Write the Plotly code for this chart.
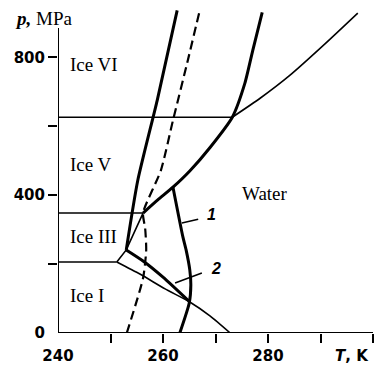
import plotly.graph_objects as go

# ---- data (T in K, p in MPa) ----
ice1_ice3_T = [240, 251.2]
ice1_ice3_p = [206, 206]
ice3_ice5_T = [240, 256.2]
ice3_ice5_p = [348, 348]
ice5_ice6_T = [240, 273.2]
ice5_ice6_p = [626, 626]

melt1_T = [251.2, 255.6, 260.4, 265.1, 269.0, 272.8]
melt1_p = [206, 171, 128, 90, 49, 0]

melt3_T = [251.2, 253.0, 256.2]
melt3_p = [206, 241, 348]

thickA_T = [253.0, 255.2, 258.9, 262.7]
thickA_p = [241, 443, 675, 936]

dash_T = [253.1, 256.2, 256.8, 256.6, 256.2, 259.6, 261.9, 264.6, 267.0]
dash_p = [0, 159, 241, 304, 348, 472, 617, 783, 936]

thickB_T = [256.2, 259.0, 261.9, 265.1, 269.0, 273.2, 275.6, 277.1, 278.9]
thickB_p = [348, 386, 423, 470, 539, 626, 725, 820, 930]

melt6_T = [273.2, 278.5, 284.2, 290.8, 297.1]
melt6_p = [626, 681, 748, 838, 928]

curve1_T = [261.9, 263.8, 264.4, 265.1, 265.3, 265.0, 263.2]
curve1_p = [423, 278, 241, 183, 139, 87, 0]

curve2_T = [253.0, 256.2, 260.0, 265.1]
curve2_p = [241, 209, 162, 90]

ptr1_T = [263.6, 266.7]
ptr1_p = [319, 330]
ptr2_T = [262.3, 267.4]
ptr2_p = [145, 174]

x_tickvals = [240, 260, 280]
x_ticktext = ["240", "260", "280"]
x_minor = [250, 260, 270, 280, 290, 300]
y_tickvals = [0, 400, 800]
y_ticktext = ["0", "400", "800"]
y_minor = [200, 400, 600, 800]

regions = [("Ice VI", 241.9, 780), ("Ice V", 241.9, 490), ("Ice III", 241.9, 281),
           ("Ice I", 241.9, 110)]

THIN = 1.6
THICK = 3.0

fig = go.Figure()

def add(T, p, w, dash="solid", shape="linear"):
    fig.add_trace(go.Scatter(x=T, y=p, mode="lines",
                             line=dict(color="black", width=w, dash=dash, shape=shape,
                                       smoothing=0.6),
                             hoverinfo="skip", showlegend=False))

add(ice1_ice3_T, ice1_ice3_p, THIN)
add(ice3_ice5_T, ice3_ice5_p, THIN)
add(ice5_ice6_T, ice5_ice6_p, THIN)
add(melt1_T, melt1_p, THIN, shape="spline")
add(melt3_T, melt3_p, THIN)
add(thickA_T, thickA_p, THICK, shape="spline")
add(dash_T, dash_p, 2.2, dash="9px,5px", shape="spline")
add(thickB_T, thickB_p, THICK, shape="spline")
add(melt6_T, melt6_p, THIN, shape="spline")
add(curve1_T, curve1_p, THICK, shape="spline")
add(curve2_T, curve2_p, THICK, shape="spline")
add(ptr1_T, ptr1_p, 1.6)
add(ptr2_T, ptr2_p, 1.6)

XR = [240, 300]
YR = [0, 940]

tickfont = dict(family="DejaVu Sans", size=15, color="black", weight="bold")

fig.update_layout(
    width=377, height=372,
    margin=dict(l=58, r=4, t=9, b=39),
    paper_bgcolor="white", plot_bgcolor="white",
    xaxis=dict(range=XR, showgrid=False, zeroline=False, showline=False,
               tickmode="array", tickvals=x_tickvals, ticktext=x_ticktext,
               ticks="outside", ticklen=9, tickwidth=2, tickcolor="rgba(0,0,0,0)",
               tickfont=tickfont),
    yaxis=dict(range=YR, showgrid=False, zeroline=False, showline=False,
               tickmode="array", tickvals=y_tickvals, ticktext=y_ticktext,
               ticks="outside", ticklen=9, tickwidth=2, tickcolor="rgba(0,0,0,0)",
               tickfont=tickfont),
    xaxis2=dict(range=XR, overlaying="x", side="bottom", showgrid=False, zeroline=False,
                showline=False, tickmode="array", tickvals=x_minor, showticklabels=False,
                ticks="outside", ticklen=9, tickwidth=2, tickcolor="black"),
    yaxis2=dict(range=YR, overlaying="y", side="left", showgrid=False, zeroline=False,
                showline=False, tickmode="array", tickvals=y_minor, showticklabels=False,
                ticks="outside", ticklen=9, tickwidth=2, tickcolor="black"),
)
# invisible trace to anchor overlay axes
fig.add_trace(go.Scatter(x=[250], y=[200], xaxis="x2", yaxis="y2", mode="markers",
                         marker=dict(opacity=0), hoverinfo="skip", showlegend=False))

# axis lines
fig.add_shape(type="line", xref="x", yref="y", x0=240, y0=0, x1=300, y1=0,
              line=dict(color="black", width=2))
fig.add_shape(type="line", xref="x", yref="y", x0=240, y0=0, x1=240, y1=885,
              line=dict(color="black", width=2))

serif = dict(family="Liberation Serif", size=19, color="black")
for txt, tx, py in regions:
    fig.add_annotation(x=tx, y=py, text=txt, showarrow=False, xanchor="left",
                       yanchor="middle", font=serif)
fig.add_annotation(x=279.4, y=406, text="Water", showarrow=False, font=serif)
fig.add_annotation(xref="paper", yref="paper", x=-0.143, y=0.972,
                   text="<b><i>p,</i></b> MPa", showarrow=False,
                   xanchor="left", yanchor="middle", font=serif)
fig.add_annotation(xref="paper", yref="paper", x=0.933, y=-0.071,
                   text="<b><i>T</i>, K</b>", showarrow=False,
                   xanchor="center", yanchor="middle",
                   font=dict(family="DejaVu Sans", size=15, color="black"))
fig.add_annotation(x=269.3, y=345, text="<b><i>1</i></b>", showarrow=False,
                   font=dict(family="Liberation Sans", size=16, color="black"))
fig.add_annotation(x=270.1, y=188, text="<b><i>2</i></b>", showarrow=False,
                   font=dict(family="Liberation Sans", size=16, color="black"))

fig.write_html("out.html")
